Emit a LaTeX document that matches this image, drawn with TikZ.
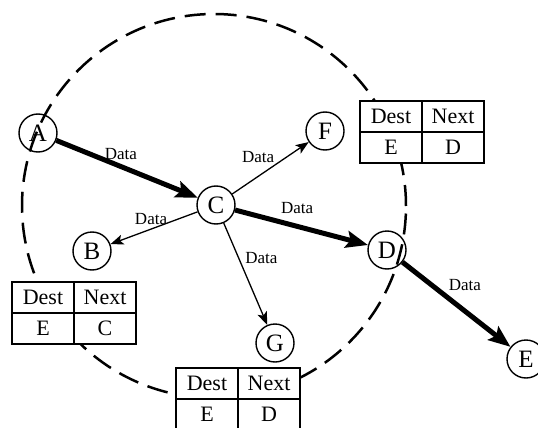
\documentclass[tikz,border=0pt]{standalone}
\usepackage{fontspec}
\setmainfont{Liberation Serif}
\usetikzlibrary{arrows.meta,positioning}
\tikzset{
  station/.style={circle,draw,line width=1.4pt,minimum size=38pt,inner sep=0pt,font=\fontsize{25}{25}\selectfont},
  cell/.style={draw,fill=white,line width=1.4pt,minimum width=62pt,minimum height=31pt,inner sep=0pt,outer sep=0pt,font=\fontsize{22}{22}\selectfont},
  heavy/.style={line width=5pt,-{Stealth[length=22pt,width=17pt,inset=4pt]}},
  light/.style={line width=1.3pt,-{Stealth[length=13pt,width=10pt,inset=3pt]}},
  dlabel/.style={font=\fontsize{17}{17}\selectfont,inner sep=4pt},
  coverage/.style={line width=2.5pt,dash pattern=on 21pt off 10pt}
}
\begin{document}
\begin{tikzpicture}[x=1pt,y=-1pt]
    \useasboundingbox (0,0) rectangle (538,428);
    % radio range of C
    \draw[coverage] (214,206) circle[radius=192pt];
    % routing tables
    \foreach \tab/\tx/\ty/\hop in {tf/360/101/D,tb/12/282/C,tg/176/368/D}{
        \node[cell,anchor=north west] (\tab-dest) at (\tx,\ty) {Dest};
        \node[cell,right=0pt of \tab-dest] (\tab-next) {Next};
        \node[cell,below=0pt of \tab-dest] (\tab-to) {E};
        \node[cell,below=0pt of \tab-next] (\tab-hop) {\hop};
    }
    % stations
    \node[station] (A) at (38,133) {A};
    \node[station] (C) at (216,205) {C};
    \node[station] (B) at (92,251) {B};
    \node[station] (F) at (325,131) {F};
    \node[station] (D) at (387,250) {D};
    \node[station] (G) at (275,343) {G};
    \node[station] (E) at (526,359) {E};
    % data flow
    \draw[heavy] (A) -- (C) node[dlabel,pos=.457,above] {Data};
    \draw[heavy] (C) -- (D) node[dlabel,pos=.467,above=6pt] {Data};
    \draw[heavy] (D) -- (E) node[dlabel,pos=.387,anchor=south west,inner sep=2pt] {Data};
    \draw[light] (C) -- (B) node[dlabel,pos=.534,above] {Data};
    \draw[light] (C) -- (F) node[dlabel,pos=.57,anchor=south east,inner sep=1pt] {Data};
    \draw[light] (C) -- (G) node[dlabel,pos=.343,right=2pt] {Data};
\end{tikzpicture}
\end{document}
